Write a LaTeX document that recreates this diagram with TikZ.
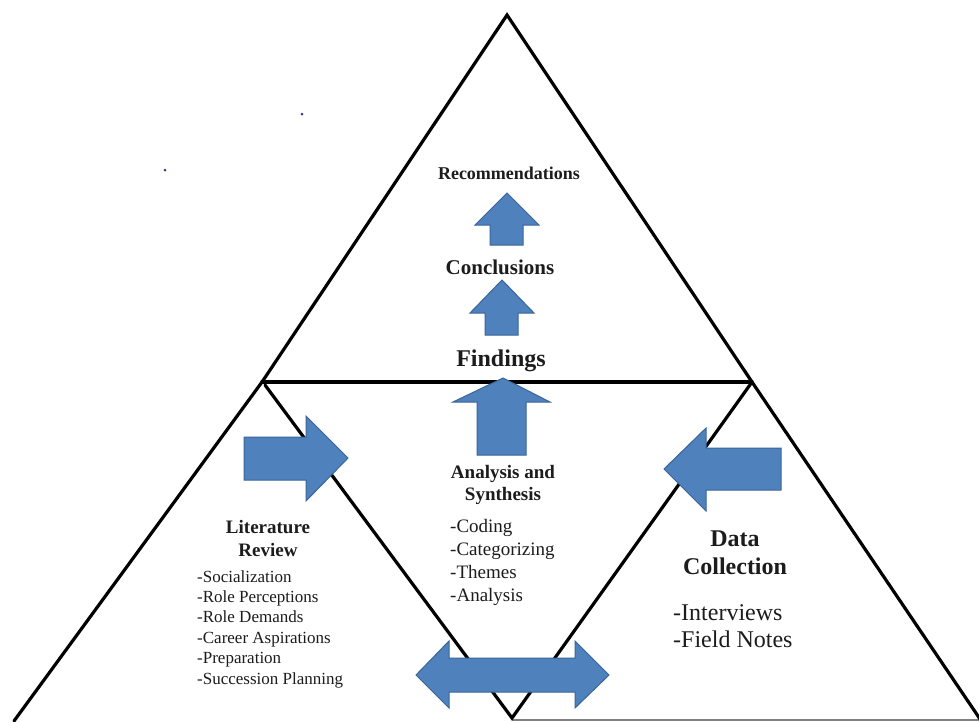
\documentclass[tikz,border=0pt]{standalone}
\usepackage{fontspec}
\setmainfont{Liberation Serif}
\definecolor{arrfill}{HTML}{4F81BD}
\definecolor{arrline}{HTML}{3A6597}
\definecolor{txt}{HTML}{1C1C1C}
\definecolor{dotc}{HTML}{3A3A80}
\begin{document}
\begin{tikzpicture}[x=1pt,y=-1pt,
  tri/.style={line width=3.2pt, line cap=round, line join=miter},
  blk/.style={fill=arrfill, draw=arrline, line width=1pt, line join=miter},
  lbl/.style={inner sep=0pt, anchor=base, text=txt},
  item/.style={inner sep=0pt, anchor=base west, text=txt}]
\useasboundingbox (0,0) rectangle (979,721);
\fill[white] (0,0) rectangle (979,721);

% triangle frame
\coordinate (apex) at (507,15);
\coordinate (ml) at (262,382);
\coordinate (mli) at (265,385);
\coordinate (mr) at (752,382);
\coordinate (bl) at (14,721);
\coordinate (bm) at (512,718);
\coordinate (br) at (980,719);
\coordinate (bb1) at (512,720);
\coordinate (bb2) at (979,720);

\draw[gray, line width=1.8pt] (bb1) -- (bb2);
\draw[tri] (bl) -- (ml) -- (apex) -- (mr) -- (br);
\draw[tri, line width=3.6pt] (ml) -- (mr);
\draw[tri] (mli) -- (bm) -- (mr);

% tiny dots
\fill[dotc] (165,170) circle (1.5);
\fill[dotc] (302,114) circle (1.5);

% block arrows
\draw[blk] (490,245) -- (490,225) -- (475,225) -- (507,193) -- (539,225) -- (523,225) -- (523,245) -- cycle;
\draw[blk] (485,335) -- (485,313) -- (470,313) -- (502,280) -- (534,313) -- (518,313) -- (518,335) -- cycle;
\draw[blk] (477,455) -- (477,402) -- (453,402) -- (503,378) -- (550,402) -- (526,402) -- (526,455) -- cycle;
\draw[blk] (244,437) -- (306,437) -- (306,416) -- (348,458) -- (306,501) -- (306,480) -- (244,480) -- cycle;
\draw[blk] (781,448) -- (706,448) -- (706,428) -- (664,469) -- (706,511) -- (706,490) -- (781,490) -- cycle;
\draw[blk] (416,675) -- (449,641) -- (449,658) -- (575,658) -- (575,641) -- (609,675) -- (575,708) -- (575,692) -- (449,692) -- (449,708) -- cycle;

% top texts
\node[lbl, font=\fontsize{18}{20}\selectfont\bfseries] (rec) at (509,179) {Recommendations};
\node[lbl, font=\fontsize{21}{24}\selectfont\bfseries] (con) at (500,274) {Conclusions};
\node[lbl, font=\fontsize{24}{28}\selectfont\bfseries] (fin) at (501,366) {Findings};

% analysis
\node[lbl, font=\fontsize{19}{22}\selectfont\bfseries] (ana1) at (503,478) {Analysis and};
\node[lbl, font=\fontsize{19}{22}\selectfont\bfseries] (ana2) at (503,500) {Synthesis};
\foreach \t [count=\i, evaluate=\i as \yy using 532+(\i-1)*23] in {-Coding,-Categorizing,-Themes,-Analysis}
  \node[item, font=\fontsize{19}{22}\selectfont] (an\i) at (450,\yy) {\t};

% literature
\node[lbl, font=\fontsize{19}{22}\selectfont\bfseries] (lit1) at (268,533) {Literature};
\node[lbl, font=\fontsize{19}{22}\selectfont\bfseries] (lit2) at (268,556) {Review};
\foreach \t [count=\i, evaluate=\i as \yy using 582+(\i-1)*20.4] in {-Socialization,-Role Perceptions,-Role Demands,-Career Aspirations,-Preparation,-Succession Planning}
  \node[item, font=\fontsize{17}{20}\selectfont] (li\i) at (197,\yy) {\t};

% data collection
\node[lbl, font=\fontsize{24}{28}\selectfont\bfseries] (dat1) at (735,546) {Data};
\node[lbl, font=\fontsize{24}{28}\selectfont\bfseries] (dat2) at (735,574) {Collection};
\node[item, font=\fontsize{24}{28}\selectfont] (dc1) at (673,620) {-Interviews};
\node[item, font=\fontsize{24}{28}\selectfont] (dc2) at (673,647) {-Field Notes};
\end{tikzpicture}
\end{document}
